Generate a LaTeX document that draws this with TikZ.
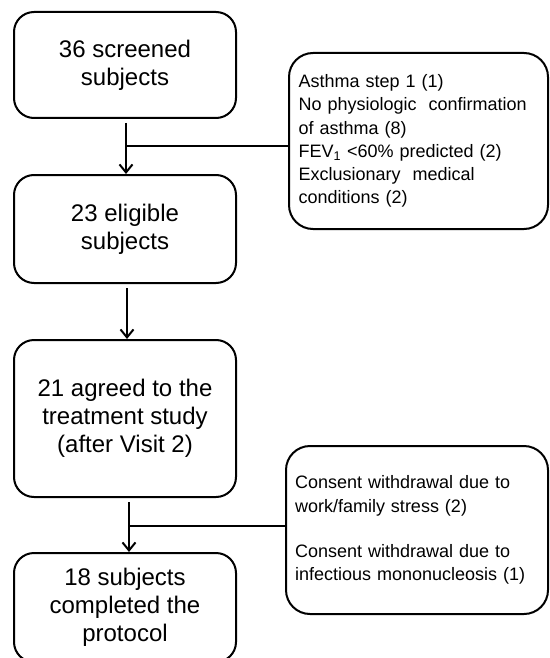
\documentclass[tikz,border=0pt]{standalone}
\usepackage{fontspec}
\setmainfont{Liberation Sans}
\usetikzlibrary{arrows.meta}
\begin{document}
\begin{tikzpicture}[x=1pt,y=-1pt,
  box/.style={draw, line width=2pt, rounded corners=20pt, minimum width=222pt,
    align=center, font=\fontsize{24}{28}\selectfont, inner sep=0pt},
  side/.style={draw, line width=2pt, rounded corners=24pt, align=left,
    font=\fontsize{18}{23.3}\selectfont, inner sep=0pt},
  arr/.style={line width=2pt, -{Straight Barb[length=8pt,width=13pt,line width=2pt]}},
  link/.style={line width=1.5pt}]
\useasboundingbox (0,0) rectangle (549,658);
\node[box, minimum height=106pt] (b1) at (125,65) {36 screened\\subjects};
\node[box, minimum height=108pt] (b2) at (125,229) {23 eligible\\subjects};
\node[box, minimum height=157pt] (b3) at (125,418.5) {21 agreed to the\\treatment study\\(after Visit 2)};
\node[box, minimum height=109pt] (b4) at (125,607.5) {18 subjects\\completed the\\protocol};
\node[side, minimum width=259pt, minimum height=176pt, text width=240pt] (s1) at (418.5,141)
  {Asthma step 1 (1)\\No physiologic\ \ confirmation\\of asthma (8)\\FEV\textsubscript{1} <60\% predicted\ (2)\\Exclusionary\ \ medical\\conditions\ (2)};
\node[side, minimum width=262pt, minimum height=168pt, text width=244pt] (s2) at (417,530)
  {Consent\ withdrawal\ due to\\work/family\ stress (2)\\[21.5pt]Consent\ withdrawal\ due to\\infectious\ mononucleosis\ (1)};
\coordinate (a1) at (126,123);
\coordinate (a2) at (127,288);
\coordinate (a3) at (129,502);
\draw[arr] (a1) -- (a1 |- b2.north);
\draw[arr] (a2) -- (a2 |- b3.north);
\draw[arr] (a3) -- (a3 |- b4.north);
\coordinate (j1) at (126,146);
\coordinate (j2) at (129,526);
\draw[link] (j1) -- (j1 -| s1.west);
\draw[link] (j2) -- (j2 -| s2.west);
\end{tikzpicture}
\end{document}
